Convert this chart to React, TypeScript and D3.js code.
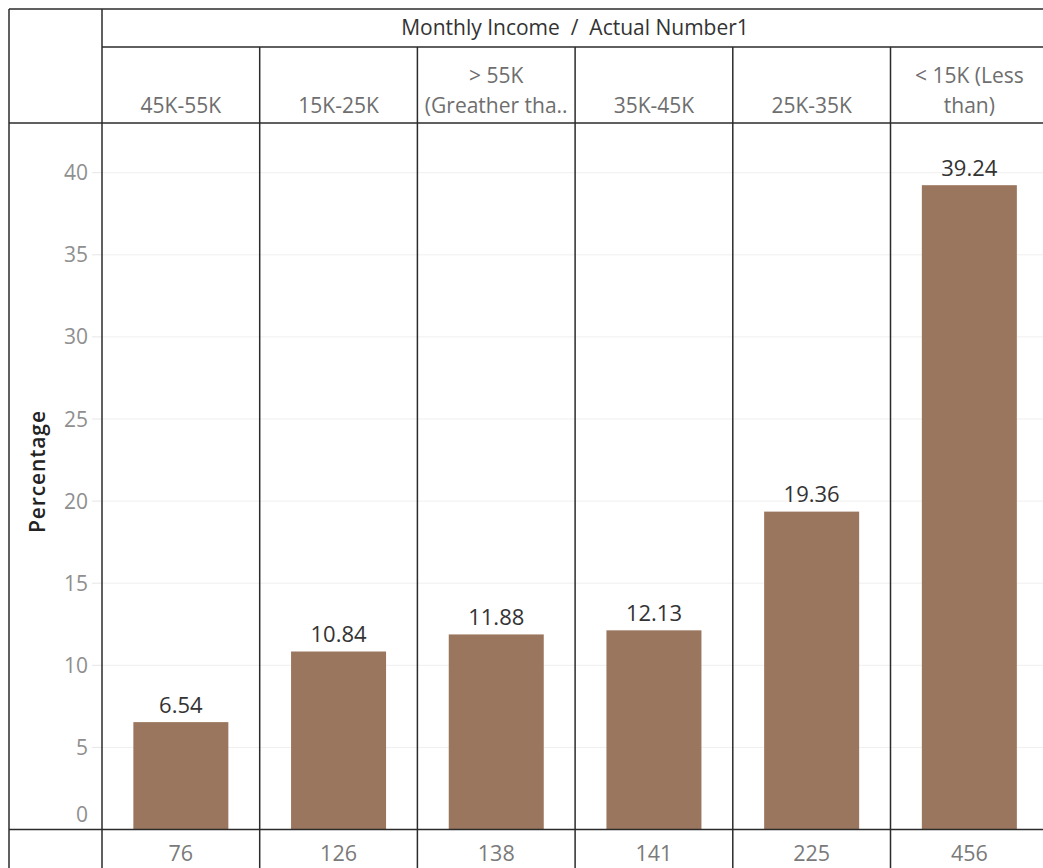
import React from "react";
import * as d3 from "d3";

const categories = ["45K-55K", "15K-25K", "> 55K (Greather tha..", "35K-45K", "25K-35K", "< 15K (Less than)"];
const headerLines = [["45K-55K"], ["15K-25K"], ["> 55K", "(Greather tha.."], ["35K-45K"], ["25K-35K"], ["< 15K (Less", "than)"]];
const percentages = [6.54, 10.84, 11.88, 12.13, 19.36, 39.24];
const counts = [76, 126, 138, 141, 225, 456];
const yTicks = [0, 5, 10, 15, 20, 25, 30, 35, 40];

const W = 1043;
const H = 868;
const FONT = "'Open Sans', Lato, sans-serif";

export default function App() {
  const axisX = 102;
  const colW = 157.7;
  const plotTop = 123;
  const plotBottom = 829.5;
  const x = d3
    .scaleBand<string>()
    .domain(categories)
    .range([axisX, axisX + colW * categories.length])
    .paddingInner(0)
    .paddingOuter(0);
  const y = d3.scaleLinear().domain([0, 40]).range([plotBottom, 172.7]);
  const barW = 95;
  const lineColor = "#2b2b2b";

  return (
    <svg width={W} height={H} style={{ position: "absolute", left: 0, top: 0, background: "#fff" }} fontFamily={FONT}>
      <rect x={0} y={0} width={W} height={H} fill="#fff" />
      {yTicks.map((t) => (
        <line key={"g" + t} x1={axisX} x2={W} y1={y(t)} y2={y(t)} stroke="#efefef" strokeWidth={1} />
      ))}
      {yTicks.map((t) => (
        <line key={"tm" + t} x1={axisX - 10} x2={axisX} y1={y(t)} y2={y(t)} stroke="#e6e6e6" strokeWidth={1} />
      ))}
      {yTicks.map((t) => (
        <text
          key={"tl" + t}
          x={axisX - 14}
          y={t === 0 ? y(t) - 7.5 : y(t) + 7.5}
          textAnchor="end"
          fontSize={21}
          fill="#8f8f8f"
        >
          {t}
        </text>
      ))}
      <text
        transform={`translate(45, 472) rotate(-90)`}
        textAnchor="middle"
        fontSize={21}
        fontWeight={600}
        fill="#222"
        textLength={122}
        lengthAdjust="spacing"
      >
        Percentage
      </text>
      {categories.map((c, i) => {
        const cx = (x(c) as number) + x.bandwidth() / 2;
        return (
          <g key={"b" + i}>
            <rect
              x={cx - barW / 2}
              y={y(percentages[i])}
              width={barW}
              height={plotBottom - y(percentages[i])}
              fill="#9b765e"
            />
            <text x={cx} y={y(percentages[i]) - 9.5} textAnchor="middle" fontSize={22} fill="#333">
              {percentages[i].toFixed(2)}
            </text>
            <text x={cx} y={861} textAnchor="middle" fontSize={21.5} fill="#7a7a7a">
              {counts[i]}
            </text>
            {headerLines[i].map((ln, j) => (
              <text
                key={j}
                x={cx}
                y={113 - (headerLines[i].length - 1 - j) * 30}
                textAnchor="middle"
                fontSize={21}
                fill="#6e6e6e"
              >
                {ln}
              </text>
            ))}
          </g>
        );
      })}
      <text x={575} y={35} textAnchor="middle" fontSize={21} fill="#333" style={{ whiteSpace: "pre" }}>
        {"Monthly Income  /  Actual Number1"}
      </text>
      <line x1={9} x2={W} y1={9} y2={9} stroke={lineColor} strokeWidth={1.5} />
      <line x1={9} x2={9} y1={9} y2={H} stroke={lineColor} strokeWidth={1.5} />
      <line x1={axisX} x2={axisX} y1={9} y2={H} stroke={lineColor} strokeWidth={1.5} />
      <line x1={axisX} x2={W} y1={47} y2={47} stroke={lineColor} strokeWidth={1.5} />
      <line x1={9} x2={W} y1={plotTop} y2={plotTop} stroke={lineColor} strokeWidth={1.5} />
      <line x1={9} x2={W} y1={plotBottom} y2={plotBottom} stroke={lineColor} strokeWidth={1.5} />
      {categories.slice(1).map((c) => (
        <line key={"v" + c} x1={x(c) as number} x2={x(c) as number} y1={47} y2={H} stroke={lineColor} strokeWidth={1.5} />
      ))}
    </svg>
  );
}
